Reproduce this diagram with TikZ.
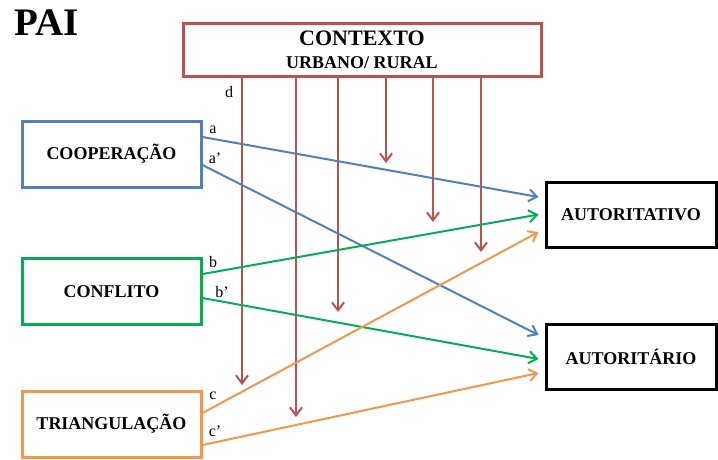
\documentclass[tikz,border=0pt]{standalone}
\usepackage{fontspec}
\setmainfont{Liberation Serif}
\usepackage{tikz}
\usetikzlibrary{arrows.meta,calc}
\definecolor{ctxred}{RGB}{192,80,77}
\definecolor{coopblue}{RGB}{79,129,189}
\definecolor{confgreen}{RGB}{0,176,80}
\definecolor{triorange}{RGB}{247,150,70}
\tikzstyle{box}=[rectangle,draw,line width=3pt,fill=white,inner sep=0pt,font=\bfseries\fontsize{18}{20}\selectfont]
\tikzstyle{outbox}=[box,draw=black,minimum width=170pt,minimum height=65pt]
\tikzstyle{inbox}=[box,minimum width=179pt,minimum height=66pt]
\tikzstyle{link} = [draw,line width=2pt,-{Straight Barb[length=8pt,width=12pt,line width=2pt]}]
\tikzstyle{letter} = [font=\fontsize{16}{18}\selectfont,inner sep=0pt]

\begin{document}
\begin{tikzpicture}[x=1pt,y=-1pt]
    \useasboundingbox (0,0) rectangle (718,459);

    \node[font=\bfseries\fontsize{39}{42}\selectfont,inner sep=0pt] (pai) at (46.5,22.5) {PAI};

    % context box and the factor boxes
    \node[box,draw=ctxred,minimum width=358pt,minimum height=53pt,align=center] (ctx) at (362,49.5)
        {\bfseries\fontsize{22}{24}\selectfont CONTEXTO\\[3pt]\bfseries\fontsize{18}{20}\selectfont URBANO/ RURAL};
    \node[inbox,draw=coopblue] (coop) at (111.5,154) {COOPERAÇÃO};
    \node[inbox,draw=confgreen] (conf) at (111.5,291.5) {CONFLITO};
    \node[inbox,draw=triorange] (tri) at (111.5,424) {TRIANGULAÇÃO};
    \node[outbox] (autv) at (631,214.5) {AUTORITATIVO};
    \node[outbox] (autr) at (631,357) {AUTORITÁRIO};

    % arrows coming down from the context
    \foreach \name/\x/\y in {r1/242/385, r2/296/417, r3/338/312, r4/386/163, r5/433/222, r6/481/252}
    {
        \coordinate (\name) at (\x,\y);
        \path[link,ctxred] (ctx.south -| \name) -- (\name);
    }

    % factors to parenting styles
    \foreach \source/\sy/\dest/\dy/\col in {coop/17/autv/17.5/coopblue, coop/-11/autr/22/coopblue,
        conf/17.5/autv/0/confgreen, conf/-6.5/autr/-2/confgreen,
        tri/11/autv/-17.5/triorange, tri/-21/autr/-16/triorange}
        \path[link,\col] ([yshift=\sy pt]\source.east) -- ([xshift=-6pt,yshift=\dy pt]\dest.west);

    \foreach \pos/\name/\txt in {{(229,92)/ld/d}, {(213,130)/la/a}, {(215,158)/lap/a’},
        {(213,262)/lb/b}, {(222,292)/lbp/b’}, {(213,396)/lc/c}, {(215,431)/lcp/c’}}
        \node[letter] (\name) at \pos {\txt};

\end{tikzpicture}
\end{document}
